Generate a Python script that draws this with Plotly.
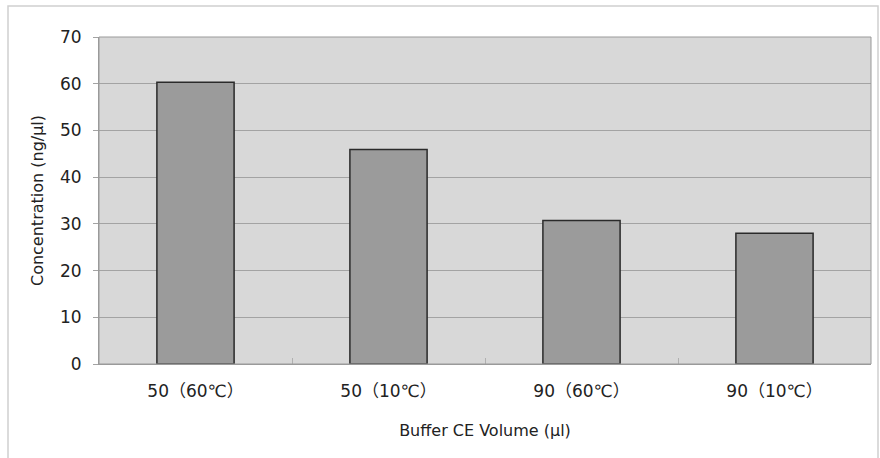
import plotly.graph_objects as go

categories = ["50（60℃）", "50（10℃）", "90（60℃）", "90（10℃）"]
values = [60.3, 45.9, 30.7, 28.0]
y_ticks = [0, 10, 20, 30, 40, 50, 60, 70]

W, H = 880, 458
ml, mr, mt, mb = 99, 9, 37, 94
pw, ph = W - ml - mr, H - mt - mb

def px_x(p):
    return (p - ml) / pw

def px_y(p):
    return (H - mb - p) / ph

fig = go.Figure()
fig.add_trace(go.Bar(
    x=categories, y=values,
    marker=dict(color="#9b9b9b", line=dict(color="#2a2a2a", width=1.5)),
    width=0.4,
))

font_main = "DejaVu Sans, Noto Sans CJK SC, sans-serif"

fig.update_layout(
    width=W, height=H,
    margin=dict(l=ml, r=mr, t=mt, b=mb),
    paper_bgcolor="white",
    plot_bgcolor="#d8d8d8",
    showlegend=False,
    font=dict(family=font_main, size=16, color="#222222"),
    xaxis=dict(
        type="category",
        tickson="boundaries",
        ticks="inside", ticklen=6, tickcolor="#b0b0b0",
        showline=True, linecolor="#9a9a9a", linewidth=1,
        showgrid=False,
        ticklabelstandoff=12,
        tickfont=dict(size=17, color="#222222"),
        title=dict(text="Buffer CE Volume (µl)", font=dict(size=16), standoff=24),
    ),
    yaxis=dict(
        range=[0, 70],
        tickvals=y_ticks,
        showgrid=True, gridcolor="#a3a3a3", gridwidth=1,
        ticks="outside", ticklen=5, tickcolor="#a3a3a3",
        showline=True, linecolor="#9a9a9a", linewidth=1,
        zeroline=False,
        ticklabelstandoff=8,
        tickfont=dict(size=17, color="#222222"),
        title=dict(text="Concentration (ng/µl)", font=dict(size=16), standoff=12),
    ),
)

# plot area border (top/right)
fig.add_shape(type="rect", xref="paper", yref="paper", x0=0, x1=1, y0=0, y1=1,
              line=dict(color="#9a9a9a", width=1), layer="above")
# outer chart frame
fig.add_shape(type="rect", xref="paper", yref="paper",
              x0=px_x(8), x1=px_x(878), y0=px_y(470), y1=px_y(6),
              line=dict(color="#d0d0d0", width=1.5), layer="below")

fig.write_html("out.html", config={"displayModeBar": False},
               post_script="document.body.style.margin='0';document.body.style.overflow='hidden';")
